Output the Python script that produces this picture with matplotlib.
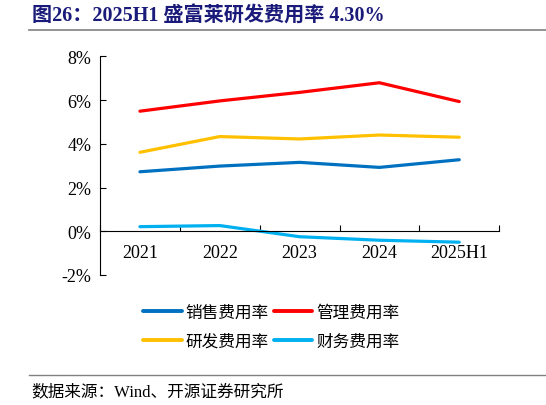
import matplotlib
matplotlib.use('Agg')
import matplotlib.pyplot as plt
from matplotlib.lines import Line2D

# data (%)
years = ['2021', '2022', '2023', '2024', '2025H1']
sales = [2.72, 2.98, 3.15, 2.92, 3.27]
admin = [5.49, 5.96, 6.35, 6.79, 5.93]
rnd = [3.61, 4.33, 4.22, 4.40, 4.30]
finance = [0.21, 0.26, -0.25, -0.41, -0.50]

names = ['销售费用率', '管理费用率', '研发费用率', '财务费用率']
colors = ['#0070C0', '#FF0000', '#FFC000', '#00B0F0']
yticks = [-2, 0, 2, 4, 6, 8]

fonts = ['Liberation Serif', 'Noto Sans CJK SC', 'DejaVu Sans']
plt.rcParams['font.family'] = fonts

fig = plt.figure(figsize=(5.46, 4.06), dpi=100)

# title and separators
fig.text(0.058, 0.958, '图26：2025H1 盛富莱研发费用率 4.30%', fontsize=14.5,
         fontweight='bold', color='#1A1A7A', va='center', ha='left')
fig.add_artist(Line2D([0.053, 1.0], [0.923, 0.923], color='#808080', lw=1.2))
fig.add_artist(Line2D([0.053, 1.0], [0.074, 0.074], color='#808080', lw=1.0))
fig.text(0.057, 0.033, '数据来源：Wind、开源证券研究所', fontsize=12,
         color='black', va='center', ha='left')

ax = fig.add_axes([0.1832, 0.3202, 0.731, 0.5387])
x = range(len(years))
lines = []
for vals, name, c in zip([sales, admin, rnd, finance], names, colors):
    ln, = ax.plot(x, vals, color=c, lw=2.3, label=name, solid_capstyle='round')
    lines.append(ln)

ax.set_xlim(-0.5, len(years) - 0.5)
ax.set_ylim(-2, 8)
ax.set_yticks(yticks)
ax.set_yticklabels([f'{v}%' for v in yticks])
ax.set_xticks(list(x))
ax.set_xticklabels(years)
ax.set_xticks([i - 0.5 for i in range(len(years) + 1)], minor=True)
ax.tick_params(axis='x', which='major', length=0, pad=9, labelsize=13)
ax.tick_params(axis='x', which='minor', direction='in', length=4, width=0.8)
ax.tick_params(axis='y', direction='in', length=4, width=0.8, pad=6,
               labelsize=13)

for s in ['top', 'right']:
    ax.spines[s].set_visible(False)
ax.spines['bottom'].set_position(('data', 0))
ax.spines['bottom'].set_linewidth(0.8)
ax.spines['left'].set_linewidth(0.8)

# legend fills row by row in the reference
order = [0, 2, 1, 3]
leg = fig.legend([lines[i] for i in order], [names[i] for i in order],
                 loc='center', bbox_to_anchor=(0.497, 0.193), ncol=2,
                 frameon=False, fontsize=12, handlelength=2.3,
                 handletextpad=0.25, columnspacing=0.3, labelspacing=0.75)
for t in leg.get_texts():
    t.set_family(['Noto Sans CJK SC', 'DejaVu Sans'])
for h in leg.legend_handles:
    h.set_linewidth(2.8)

fig.savefig('out.png', dpi=100)
